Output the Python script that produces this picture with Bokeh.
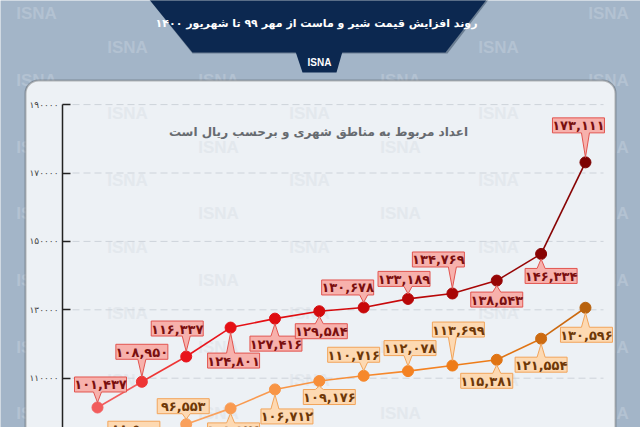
from bokeh.plotting import figure
from bokeh.models import Range1d, LinearAxis, FixedTicker, BoxAnnotation, PolyAnnotation, Label
from bokeh.core.properties import value
from bokeh.embed import file_html
from bokeh.resources import INLINE

# ---------------- data ----------------
months = ["مهر ۹۹", "آبان ۹۹", "آذر ۹۹", "دی ۹۹", "بهمن ۹۹", "اسفند ۹۹",
          "فروردین ۱۴۰۰", "اردیبهشت ۱۴۰۰", "خرداد ۱۴۰۰", "تیر ۱۴۰۰", "مرداد ۱۴۰۰", "شهریور ۱۴۰۰"]
series_red = [101437, 108950, 116337, 124801, 127416, 129584,
              130678, 133189, 134769, 138543, 146334, 173111]
series_orange = [85000, 88500, 96553, 101176, 106712, 109176,
                 110716, 112078, 113699, 115381, 121554, 130596]
y_ticks = [110000, 130000, 150000, 170000, 190000]
y_tick_labels = ["۱۱۰۰۰۰", "۱۳۰۰۰۰", "۱۵۰۰۰۰", "۱۷۰۰۰۰", "۱۹۰۰۰۰"]
title_text = "روند افزایش قیمت شیر و ماست از مهر ۹۹ تا شهریور ۱۴۰۰"
subtitle_text = "اعداد مربوط به مناطق شهری و برحسب ریال است"
brand = "ISNA"

# ---------------- layout / style ----------------
OFF = 0
W, H = 640, 427
X0, DX = 97.0, 44.36          # page px of first month, px per month
Y110, PPU = 377.7, 68.4 / 20000.0  # page px of 110000, px per rial

def X(px):
    return (px - X0) / DX

def Y(py):
    return 110000 - (py - Y110) / PPU

def PX(i):
    return X0 + DX * i

def PY(v):
    return Y110 - (v - 110000) * PPU

FA = str.maketrans("0123456789", "۰۱۲۳۴۵۶۷۸۹")

def fa(n):
    return f"{n:,}".translate(FA)

BG = "#a3b5c8"
PANEL = "#edf1f5"
NAVY = "#0c2850"
FONT = "DejaVu Sans"

red_colors = ["#f25c5c", "#ee3535", "#e8141c", "#e50f14", "#df0c10", "#d40a0c",
              "#c8080a", "#b80708", "#a80606", "#960505", "#870303", "#7c0202"]
orange_colors = ["#fbb27a", "#fba66a", "#f9a05c", "#f99a50", "#f89545", "#f78e38",
                 "#f6882c", "#f48222", "#ee7c18", "#e07414", "#cc6a10", "#b8620e"]
red_off = [(3, -23), (0, -30), (-9, -28), (3, 33), (1, 25), (2, 20),
           (-16, -20), (-4, -20), (-14, -34), (0, 19), (10, 22), (-7, -37)]
orange_off = [(0, -24), (-8, -23), (-3, -18), (3, 22), (12, 27), (10, 16),
              (-10, -21), (2, -23), (6, -36), (-10, 21), (0, 26), (1, 27)]

p = figure(width=W, height=H, output_backend="svg", toolbar_location=None,
           x_range=Range1d(X(OFF), X(OFF + W)), y_range=Range1d(Y(OFF + H), Y(OFF)),
           x_axis_location=None, y_axis_location=None, min_border=0,
           background_fill_color=BG, border_fill_color=BG, outline_line_color=None)
p.grid.visible = False
p.title.visible = False

# background watermarks
even_rows = [13, 80, 147, 213, 280, 347, 413]
odd_rows = [47, 113, 180, 247, 313, 380]
even_cols = [36, 218, 400, 608]
odd_cols = [127, 309, 498]
marks = [(x, y) for y in even_rows for x in even_cols] + [(x, y) for y in odd_rows for x in odd_cols]
for (mx, my) in marks:
    p.add_layout(Label(x=X(mx), y=Y(my), text=brand, text_align="center", text_baseline="middle",
                       text_font="Liberation Sans", text_font_style="bold", text_font_size="17px",
                       text_color="#b3c2d2", level="image"))

# panel
p.add_layout(BoxAnnotation(left=X(25), right=X(615), top=Y(80), bottom=Y(470),
                           fill_color=PANEL, fill_alpha=1, line_color="#2b2b2b", line_width=2,
                           border_radius=13, level="image"))
for (mx, my) in marks:
    if 40 < mx < 600 and my > 95:
        p.add_layout(Label(x=X(mx), y=Y(my), text=brand, text_align="center", text_baseline="middle",
                           text_font="Liberation Sans", text_font_style="bold", text_font_size="17px",
                           text_color="#e3e8ed", level="image"))

# grid lines
p.segment(x0=[X(72)] * len(y_ticks), x1=[X(603)] * len(y_ticks), y0=y_ticks, y1=y_ticks,
          line_color="#cdd3da", line_width=1, line_dash="7 4")

# y axis
yaxis = LinearAxis(fixed_location=X(62), ticker=FixedTicker(ticks=y_ticks),
                   bounds=(Y(470), max(y_ticks)),
                   major_label_overrides={t: l for t, l in zip(y_ticks, y_tick_labels)})
yaxis.axis_line_color = "#222222"
yaxis.axis_line_width = 1.5
yaxis.major_tick_in = 8
yaxis.major_tick_out = 0
yaxis.major_tick_line_color = "#222222"
yaxis.major_tick_line_width = 1.5
yaxis.minor_tick_line_color = None
yaxis.major_label_standoff = 4
yaxis.major_label_text_font = FONT
yaxis.major_label_text_font_size = "9px"
yaxis.major_label_text_color = "#444444"
p.add_layout(yaxis, "left")

idx = list(range(len(months)))

def draw_series(vals, colors, offs, fill, border, tcolor):
    p.segment(x0=idx[:-1], y0=vals[:-1], x1=idx[1:], y1=vals[1:],
              line_color=colors[:-1], line_width=1.6)
    p.scatter(idx, vals, size=11, fill_color=colors, line_color=colors)
    xs, ys, tx, ty, tt = [], [], [], [], []
    w, h, tail = 52, 15, 4
    for i, v in enumerate(vals):
        px, py = PX(i), PY(v)
        dx, dy = offs[i]
        cx, cy = px + dx, py + dy
        l, r, t, b = cx - w / 2, cx + w / 2, cy - h / 2, cy + h / 2
        bx = min(max(px, l + tail + 2), r - tail - 2)
        if dy < 0:
            tip = (px, py - 5)
            pts = [(l, t), (r, t), (r, b), (bx + tail, b), tip, (bx - tail, b), (l, b)]
        else:
            tip = (px, py + 5)
            pts = [(l, t), (bx - tail, t), tip, (bx + tail, t), (r, t), (r, b), (l, b)]
        xs.append([X(a) for a, _ in pts])
        ys.append([Y(c) for _, c in pts])
        tx.append(X(cx))
        ty.append(Y(cy + 0.5))
        tt.append(fa(v))
    p.patches(xs, ys, fill_color=fill, line_color=border, line_width=1)
    p.text(tx, ty, text=tt, text_align="center", text_baseline="middle",
           text_font=value(FONT), text_font_style="bold", text_font_size="13px", text_color=tcolor)

draw_series(series_orange, orange_colors, orange_off, "#fdd9b2", "#f2a45a", "#6e3808")
draw_series(series_red, red_colors, red_off, "#f7b1ac", "#e2544f", "#7a0f0f")

# subtitle
p.add_layout(Label(x=X(318), y=Y(131), text=subtitle_text, text_align="center", text_baseline="middle",
                   text_font=FONT, text_font_style="bold", text_font_size="12px", text_color="#676b70"))

# banner
p.add_layout(PolyAnnotation(xs=[X(148), X(489), X(447), X(192)], ys=[Y(-2), Y(-2), Y(53), Y(53)],
                            fill_color="#32455c", fill_alpha=0.5, line_color=None))
p.add_layout(PolyAnnotation(xs=[X(148), X(487), X(445), X(192)], ys=[Y(-2), Y(-2), Y(52), Y(52)],
                            fill_color=NAVY, fill_alpha=1, line_color=None))
p.add_layout(PolyAnnotation(xs=[X(295), X(342), X(336), X(302)], ys=[Y(51), Y(51), Y(72), Y(72)],
                            fill_color=NAVY, fill_alpha=1, line_color=None))
p.add_layout(Label(x=X(316), y=Y(23), text=title_text, text_align="center", text_baseline="middle",
                   text_font=FONT, text_font_style="bold", text_font_size="11px", text_color="white"))
p.add_layout(Label(x=X(319), y=Y(62), text=brand, text_align="center", text_baseline="middle",
                   text_font="Liberation Sans", text_font_style="bold", text_font_size="10px",
                   text_color="white"))

open("out.html", "w").write(file_html(p, INLINE))
